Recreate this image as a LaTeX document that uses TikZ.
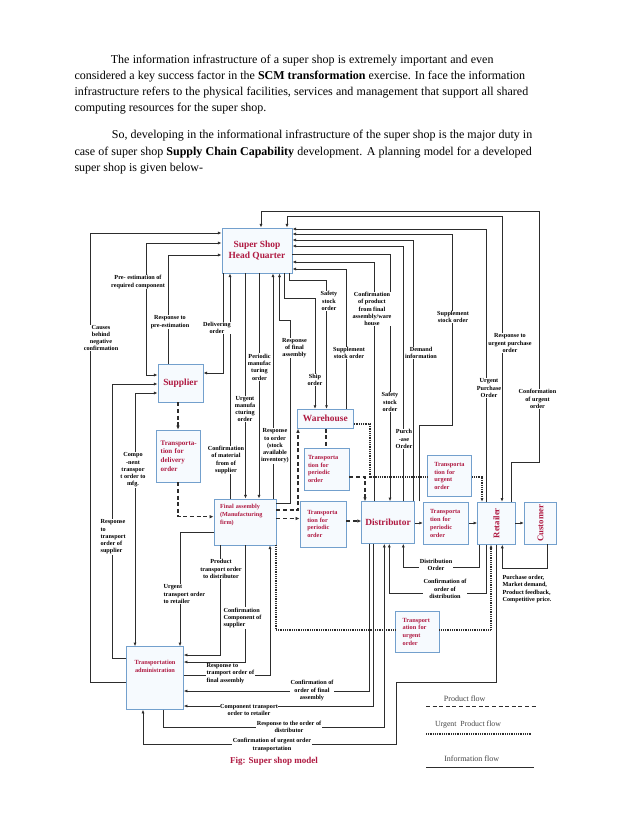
\documentclass[tikz,border=0pt]{standalone}
\usepackage{fontspec}
\setmainfont{Liberation Serif}
\usetikzlibrary{arrows.meta}
\definecolor{lc}{RGB}{45,45,45}
\definecolor{bx}{RGB}{115,160,205}
\definecolor{bf}{RGB}{246,250,254}
\definecolor{crim}{RGB}{175,25,65}
\definecolor{lg}{RGB}{70,70,70}
\begin{document}
\begin{tikzpicture}[x=1pt,y=-1pt,
  box/.style={draw=bx, fill=bf, line width=0.9pt, text=crim, inner sep=0pt, align=center},
  bigf/.style={font=\fontsize{9.4}{11.7}\selectfont\bfseries},
  midf/.style={font=\fontsize{7}{8.6}\selectfont\bfseries},
  smf/.style={font=\fontsize{6.3}{7.8}\selectfont\bfseries},
  lbl/.style={font=\fontsize{6.2}{7.3}\selectfont\bfseries, align=center, fill=white, inner sep=0.4pt, text=black},
  info/.style={draw=lc, line width=0.7pt},
  arr/.style={info, -{Latex[length=3.6pt,width=3pt]}},
  barr/.style={info, {Latex[length=3.6pt,width=3pt]}-{Latex[length=3.6pt,width=3pt]}},
  prod/.style={draw=lc, line width=1.2pt, dash pattern=on 4pt off 2.6pt},
  parr/.style={prod, -{Latex[length=4pt,width=3.6pt]}},
  urg/.style={draw=lc, line width=1.1pt, dash pattern=on 0.9pt off 0.9pt},
  uarr/.style={urg, -{Latex[length=3.6pt,width=3pt]}},
  para/.style={anchor=base west, inner sep=0pt, font=\fontsize{12}{14}\selectfont}
]
\fill[white] (0,0) rectangle (638,826);
\useasboundingbox (0,0) rectangle (638,826);

% ---------- text above ----------
\node[para] (t1) at (110.7,63.3) {\makebox[382.6pt][s]{The information infrastructure of a super shop is extremely important and even}};
\node[para] (t2) at (74.3,79.5) {\makebox[450.7pt][s]{considered a key success factor in the \textbf{SCM transformation} exercise. In face the information}};
\node[para] (t3) at (74.3,95.5) {\makebox[453.7pt][s]{infrastructure refers to the physical facilities, services and management that support all shared}};
\node[para] (t4) at (74.3,111.7) {computing resources for the super shop.};
\node[para] (t5) at (111.7,139) {\makebox[420.3pt][s]{So, developing in the informational infrastructure of the super shop is the major duty in}};
\node[para] (t6) at (74.3,155.7) {\makebox[457.4pt][s]{case of super shop \textbf{Supply Chain Capability} development. A planning model for a developed}};
\node[para] (t7) at (74.3,172) {super shop is given below-};

% ---------- boxes ----------
\node[box, bigf, minimum width=70pt, minimum height=45pt] (hq) at (257,250.5) {Super Shop\\Head Quarter};
\node[box, bigf, minimum width=45pt, minimum height=38pt] (sup) at (180.5,383) {Supplier};
\node[box, midf, text width=36pt, align=left, minimum width=44pt, minimum height=52pt] (tdel) at (178.7,456) {\mbox{Transporta-}\\tion for\\delivery\\order};
\node[box, font=\fontsize{6.2}{7.6}\selectfont\bfseries, text width=50pt, align=left, minimum width=62pt, minimum height=46pt] (fa) at (245,522) {Final assembly\\(Manufacturing\\firm)\\\mbox{}\\\mbox{}};
\node[box, bigf, minimum width=56pt, minimum height=19pt] (wh) at (325.3,418.8) {Warehouse};
\node[box, smf, text width=37pt, align=left, minimum width=45pt, minimum height=42pt] (tp1) at (326.5,469) {Transporta\\tion for\\periodic\\order};
\node[box, smf, text width=31.5pt, align=left, minimum width=46pt, minimum height=46pt] (tp2) at (323,524) {Transporta\\tion for\\periodic\\order};
\node[box, bigf, minimum width=52.6pt, minimum height=41.6pt] (dis) at (388,522.5) {Distributor};
\node[box, smf, text width=31.6pt, align=left, minimum width=45pt, minimum height=42pt] (tp3) at (445.8,523.3) {Transporta\\tion for\\periodic\\order};
\node[box, smf, text width=30.4pt, align=left, minimum width=44.4pt, minimum height=41.7pt] (tu1) at (449.5,476) {Transporta\\tion for\\urgent\\order};
\node[box, font=\fontsize{8.7}{10}\selectfont\bfseries, minimum width=37.3pt, minimum height=42pt] (ret) at (496.3,523.2) {\rotatebox{90}{Retailer}};
\node[box, font=\fontsize{8.7}{10}\selectfont\bfseries, minimum width=32.4pt, minimum height=41.3pt] (cus) at (540.5,523.3) {\rotatebox{90}{Customer}};
\node[box, smf, text width=29.2pt, align=left, minimum width=43.3pt, minimum height=41.3pt] (tu2) at (417.3,631.7) {Transport\\ation for\\urgent\\order};
\node[box, smf, minimum width=56.6pt, minimum height=62.6pt] (ta) at (155,678) {Transportation\\administration\\\mbox{}\\\mbox{}\\\mbox{}};

% ---------- information flows ----------
% top / right side of HQ
\draw[arr] (511,0 |- ret.north) -- (511,462) -- (539,462) -- (539,211) -- (261,211) -- (261,0 |- hq.north);
\draw[barr] (287,0 |- hq.north) -- (287,216) -- (502,216) -- (502,0 |- ret.north);
\draw[arr] (486,0 |- ret.north) -- (486,229) -- (hq.east |- 0,229);
\draw[arr] (419,0 |- dis.north) -- (419,425) -- (452,425) -- (452,234) -- (hq.east |- 0,234);
\draw[arr] (413,0 |- dis.north) -- (413,240) -- (hq.east |- 0,240);
\draw[arr] (403,0 |- dis.north) -- (403,246) -- (hq.east |- 0,246);
\draw[arr] (hq.east |- 0,254) -- (390,254) -- (390,0 |- dis.north);
\draw[arr] (374,0 |- dis.north) -- (374,262) -- (hq.east |- 0,262);
\draw[arr] (346,0 |- wh.north) -- (346,269) -- (hq.east |- 0,269);
% HQ bottom
\draw[arr] (289,0 |- hq.south) -- (289,280) -- (326.5,280) -- (326.5,0 |- wh.north);
\draw[arr] (284,0 |- hq.south) -- (284,298) -- (315,298) -- (315,0 |- wh.north);
\draw[arr] (fa.east |- 0,503) -- (290.7,503) -- (290.7,320) -- (279.5,320) -- (279.5,0 |- hq.south);
\draw[arr] (273,0 |- fa.north) -- (273,0 |- hq.south);
\draw[arr] (259,0 |- hq.south) -- (259,0 |- fa.north);
\draw[arr] (245.5,0 |- hq.south) -- (245.5,0 |- fa.north);
\draw[arr] (230,0 |- fa.north) -- (230,0 |- hq.south);
\draw[arr] (223,0 |- hq.south) -- (223,373) -- (sup.east |- 0,373);
% HQ left / supplier
\draw[arr] (168,0 |- sup.north) -- (168,255) -- (hq.west |- 0,255);
\draw[barr] (hq.west |- 0,243) -- (146,243) -- (146,375) -- (sup.west |- 0,375);
\draw[arr] (ta.west |- 0,682) -- (90,682) -- (90,233) -- (hq.west |- 0,233);
\draw[arr] (ta.west |- 0,658) -- (112,658) -- (112,384) -- (sup.west |- 0,384);
\draw[barr] (sup.west |- 0,393) -- (135,393) -- (135,0 |- ta.north);
% final assembly / transportation administration
\draw[arr] (fa.west |- 0,532) -- (180,532) -- (180,0 |- ta.north);
\draw[arr] (220.5,0 |- fa.south) -- (220.5,655) -- (ta.east |- 0,655);
\draw[arr] (245,0 |- fa.south) -- (245,662) -- (ta.east |- 0,662);
\draw[arr] (ta.east |- 0,675) -- (270,675) -- (270,0 |- fa.south);
\draw[arr] (369.5,0 |- dis.south) -- (369.5,691) -- (ta.east |- 0,691);
\draw[arr] (373.5,0 |- dis.south) -- (373.5,706) -- (ta.east |- 0,706);
\draw[arr] (163,0 |- ta.south) -- (163,727) -- (384.3,727) -- (384.3,0 |- dis.south);
\draw[arr] (496,0 |- ret.south) -- (496,682) -- (396.7,682) -- (396.7,744) -- (143,744) -- (143,0 |- ta.south);
% distributor / retailer / customer below
\draw[arr] (479.5,0 |- ret.south) -- (479.5,567) -- (403.3,567) -- (403.3,0 |- dis.south);
\draw[arr] (486,0 |- ret.south) -- (486,593) -- (389.3,593) -- (389.3,0 |- dis.south);
\draw[arr] (547.7,0 |- cus.south) -- (547.7,568) -- (502.3,568) -- (502.3,0 |- ret.south);

% ---------- product flows ----------
\draw[parr] (178,0 |- sup.south) -- (178,0 |- tdel.north);
\draw[parr] (178,0 |- tdel.south) -- (178,516.7) -- (fa.west |- 0,516.7);
\draw[parr] (fa.east |- 0,510) -- (298,510) -- (298,0 |- wh.south);
\draw[parr] (fa.east |- 0,518.5) -- (tp2.west |- 0,518.5);
\draw[prod] (326,0 |- wh.south) -- (326,0 |- tp1.north);
\draw[parr] (tp1.east |- 0,477) -- (365,477) -- (365,0 |- dis.north);
\draw[parr] (tp2.east |- 0,521) -- (dis.west |- 0,521);
\draw[arr] (dis.east |- 0,523) -- (tp3.west |- 0,523);
\draw[arr] (tp3.east |- 0,523) -- (ret.west |- 0,523);
\draw[arr] (ret.east |- 0,523) -- (cus.west |- 0,523);

% ---------- urgent product flows ----------
\draw[urg] (wh.east |- 0,424) -- (370,424) -- (370,477) -- (tu1.west |- 0,477);
\draw[uarr] (tu1.east |- 0,477) -- (482,477) -- (482,0 |- ret.north);
\draw[urg] (276,0 |- fa.south) -- (276,630) -- (tu2.west |- 0,630);
\draw[uarr] (tu2.east |- 0,630) -- (491,630) -- (491,0 |- ret.south);

% ---------- labels ----------
\node[lbl] (l1) at (537.5,399) {Conformation\\of urgent\\order};
\node[lbl] (l2) at (510,343) {Response to\\urgent purchase\\order};
\node[lbl] (l3) at (489,388) {Urgent\\Purchase\\Order};
\node[lbl] (l4) at (453,317) {Supplement\\stock order};
\node[lbl] (l5) at (421,353) {Demand\\information};
\node[lbl] (l6) at (404,439) {Purch\\-ase\\Order};
\node[lbl] (l7) at (390,402) {Safety\\stock\\order};
\node[lbl] (l8) at (372,309) {Confirmation\\of product\\from final\\assembly/ware\\house};
\node[lbl] (l9) at (349,353) {Supplement\\stock order};
\node[lbl] (l10) at (329,301) {Safety\\stock\\order};
\node[lbl] (l11) at (315,380) {Ship\\order};
\node[lbl] (l12) at (294.5,348) {Response\\of final\\assembly};
\node[lbl] (l13) at (275,446) {Response\\to order\\(stock\\available\\inventory)};
\node[lbl] (l14) at (259.5,367) {Periodic\\manufac\\turing\\order};
\node[lbl] (l15) at (245,409) {Urgent\\manufa\\cturing\\order};
\node[lbl] (l16) at (226,460) {Confirmation\\of material\\from of\\supplier};
\node[lbl] (l17) at (217,328) {Delivering\\order};
\node[lbl] (l18) at (170,322) {Response to\\pre-estimation};
\node[lbl] (l19) at (138,282) {Pre- estimation of\\required component};
\node[lbl] (l20) at (101,338) {Causes\\behind\\negative\\confirmation};
\node[lbl, anchor=west, align=left] (l21) at (100,537) {Response\\to\\transport\\order of\\supplier};
\node[lbl] (l22) at (133,470) {Compo\\-nent\\transpor\\t order to\\mfg.};
\node[lbl, anchor=west, align=left] (l23) at (163,594) {Urgent\\transport order\\to retailer};
\node[lbl] (l24) at (221,569) {Product\\transport order\\to distributor};
\node[lbl, anchor=west, align=left] (l25) at (223,618) {Confirmation\\Component of\\supplier};
\node[lbl, anchor=west, align=left] (l26) at (206,673.5) {Response to\\tramport order of\\final assembly};
\node[lbl] (l27) at (312,690.5) {Confirmation of\\order of final\\assembly};
\node[lbl] (l28) at (249,710) {Component transport\\order to retailer};
\node[lbl] (l29) at (289,727) {Response to the order of\\distributor};
\node[lbl] (l30) at (272,745) {Confirmation of urgent order\\transportation};
\node[lbl] (l31) at (436,565) {Distribution\\Order};
\node[lbl] (l32) at (445,589) {Confirmation of\\order of\\distribution};
\node[lbl, anchor=west, align=left] (l33) at (502,589) {Purchase order,\\Market demand,\\Product feedback,\\Competitive price.};

% ---------- legend and caption ----------
\node[font=\fontsize{8}{9}\selectfont, text=lg] (lgp) at (464.7,699) {Product flow};
\draw[prod, line width=1.3pt] (426,706.7) -- (537,706.7);
\node[font=\fontsize{7.8}{9}\selectfont, text=lg] (lgu) at (468,725) {Urgent\ \ Product flow};
\draw[urg] (426,734) -- (532,734);
\node[font=\fontsize{8}{9}\selectfont, text=lg] (lgi) at (471.7,758.3) {Information flow};
\draw[info, line width=0.8pt] (426,767.7) -- (534,767.7);
\node[font=\fontsize{9}{10}\selectfont\bfseries, text=crim] (cap) at (274,761.7) {Fig: Super shop model};
\end{tikzpicture}
\end{document}
